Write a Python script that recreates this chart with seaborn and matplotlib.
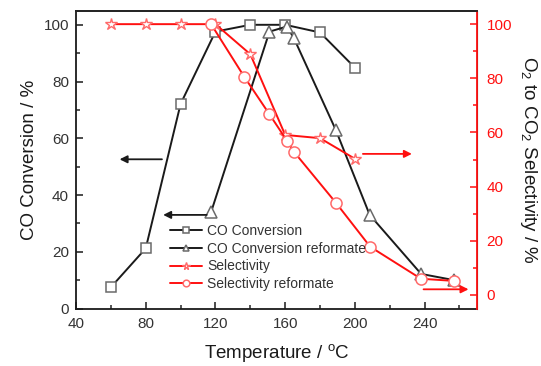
import matplotlib
matplotlib.use("Agg")
import matplotlib.pyplot as plt
from matplotlib.ticker import MultipleLocator
import seaborn as sns

# CO conversion (left axis)
temp_co = [60, 80, 100, 120, 140, 160, 180, 200]
co_conv = [7.5, 21.2, 72.1, 97.6, 100, 100, 97.3, 84.9]

temp_co_ref = [117.5, 151, 161, 165, 189, 208.5, 238, 257]
co_conv_ref = [34, 97.6, 99.4, 95.3, 63, 33, 12.2, 10]

# O2 -> CO2 selectivity (right axis)
temp_sel = [60, 80, 100, 120, 140, 160, 180, 200]
sel = [100, 100, 100, 100, 88.9, 59.1, 57.9, 50.3]

temp_sel_ref = [117.5, 136.5, 151, 161, 165, 189.3, 208.8, 237.9, 257]
sel_ref = [100, 80.6, 66.7, 57, 52.9, 33.9, 17.8, 6, 5.2]

x_ticks = [40, 80, 120, 160, 200, 240]

sns.set_style("ticks")
plt.rcParams['font.family'] = ['Liberation Sans', 'DejaVu Sans']

fig = plt.figure(figsize=(5.41, 3.66), dpi=100)
ax = fig.add_axes([0.1405, 0.157, 0.741, 0.814])
ax2 = ax.twinx()

blk = '#1a1a1a'
grey = '#6a6a6a'
red = '#ff1010'
pink = '#ff6a6a'

sns.lineplot(x=temp_co, y=co_conv, ax=ax, color=blk, lw=1.4, marker='s', ms=7,
             mfc='white', mec=grey, mew=1.1, label='CO Conversion', legend=False)
sns.lineplot(x=temp_co_ref, y=co_conv_ref, ax=ax, color=blk, lw=1.4, marker='^', ms=8,
             mfc='white', mec=grey, mew=1.1, label='CO Conversion reformate', legend=False)
sns.lineplot(x=temp_sel, y=sel, ax=ax2, color=red, lw=1.4, marker='*', ms=9,
             mfc='white', mec=pink, mew=1.0, label='Selectivity', legend=False)
sns.lineplot(x=temp_sel_ref, y=sel_ref, ax=ax2, color=red, lw=1.4, marker='o', ms=8,
             mfc='white', mec=pink, mew=1.1, label='Selectivity reformate', legend=False)

# pointer arrows
arrow_kw = dict(arrowstyle='-|>', lw=1.3, mutation_scale=11, shrinkA=0, shrinkB=0)
ax.annotate('', xy=(65, 52.6), xytext=(89.3, 52.6), arrowprops=dict(color=blk, **arrow_kw))
ax.annotate('', xy=(90, 33), xytext=(115, 33), arrowprops=dict(color=blk, **arrow_kw))
ax2.annotate('', xy=(232.7, 52.1), xytext=(204.6, 52.1), arrowprops=dict(color=red, **arrow_kw))
ax2.annotate('', xy=(265.2, 2.1), xytext=(239.4, 2.1), arrowprops=dict(color=red, **arrow_kw))

ax.set_xlim(40, 270)
ax.set_ylim(0, 105)
ax2.set_ylim(-5, 105)
ax.set_xticks(x_ticks)
ax.xaxis.set_minor_locator(MultipleLocator(20))
ax.yaxis.set_major_locator(MultipleLocator(20))
ax.yaxis.set_minor_locator(MultipleLocator(10))
ax2.yaxis.set_major_locator(MultipleLocator(20))
ax2.yaxis.set_minor_locator(MultipleLocator(10))
ax2.set_yticks([0, 20, 40, 60, 80, 100])

ax.tick_params(axis='both', which='major', direction='in', length=5, width=1.1,
               labelsize=11, colors=blk, pad=5, top=False, right=False)
ax.tick_params(axis='both', which='minor', direction='in', length=3, width=1.1,
               top=False, right=False)
ax.tick_params(axis='y', labelcolor='#333333')
ax.tick_params(axis='x', labelcolor='#333333', pad=6)
ax2.tick_params(axis='y', which='major', direction='in', length=5, width=1.1,
                labelsize=11, colors=red, pad=7)
ax2.tick_params(axis='y', which='minor', direction='in', length=3, width=1.1, colors=red)

for s in ['left', 'bottom', 'top']:
    ax.spines[s].set_color(blk)
    ax.spines[s].set_linewidth(1.3)
ax2.spines['right'].set_color(red)
ax2.spines['right'].set_linewidth(1.3)
ax2.spines['top'].set_linewidth(1.3)
ax2.spines['left'].set_visible(False)
ax2.spines['bottom'].set_visible(False)

ax.set_xlabel('Temperature / $\\mathregular{^{o}}$C', fontsize=13.5, color=blk, labelpad=8)
ax.set_ylabel('CO Conversion / %', fontsize=13.5, color=blk, labelpad=4)
ax2.set_ylabel('O$\\mathregular{_2}$ to CO$\\mathregular{_2}$ Selectivity / %', fontsize=13.5,
               color=blk, rotation=270, labelpad=19)

h1, l1 = ax.get_legend_handles_labels()
h2, l2 = ax2.get_legend_handles_labels()
ax2.legend(h1 + h2, l1 + l2, loc='upper left', bbox_to_anchor=(0.2346, 0.285),
           frameon=False, borderpad=0, borderaxespad=0, handlelength=2.3,
           handletextpad=0.35, labelspacing=0.28, markerscale=0.6,
           prop={'size': 10}, labelcolor='#333333')

fig.savefig('out.png', dpi=100)
